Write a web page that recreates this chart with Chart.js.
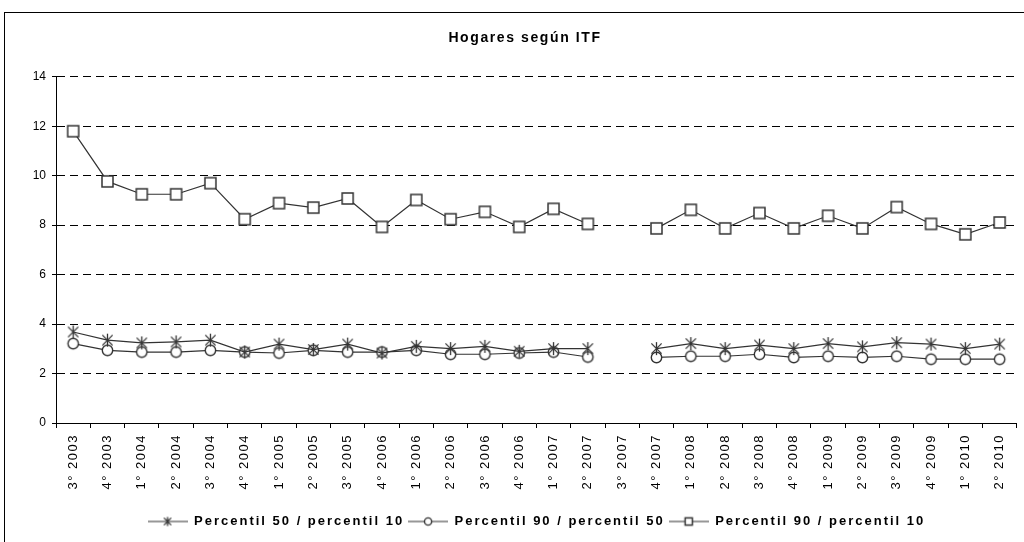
<!DOCTYPE html>
<html><head><meta charset="utf-8">
<script src="https://cdn.jsdelivr.net/npm/chart.js@4/dist/chart.umd.min.js"></script>
<style>
html,body{margin:0;padding:0;background:#fff;overflow:hidden;}
#wrap{position:relative;width:1024px;height:542px;}
#frame{position:absolute;left:4px;top:12px;width:1100px;height:600px;border:1px solid #000;box-sizing:border-box;pointer-events:none;}
canvas{display:block;}
</style></head><body>
<div id="wrap"><canvas id="c" width="1024" height="542"></canvas><div id="frame"></div></div>
<script>
const titleText = 'Hogares según ITF';
const categories = ['3° 2003','4° 2003','1° 2004','2° 2004','3° 2004','4° 2004','1° 2005','2° 2005','3° 2005','4° 2006','1° 2006','2° 2006','3° 2006','4° 2006','1° 2007','2° 2007','3° 2007','4° 2007','1° 2008','2° 2008','3° 2008','4° 2008','1° 2009','2° 2009','3° 2009','4° 2009','1° 2010','2° 2010'];
const seriesNames = ['Percentil 50 / percentil 10','Percentil 90 / percentil 50','Percentil 90 / percentil 10'];
const p50p10 = [3.68,3.35,3.24,3.28,3.35,2.87,3.19,2.97,3.19,2.83,3.10,3.01,3.10,2.90,3.01,3.01,null,3.01,3.21,3.01,3.15,3.01,3.21,3.08,3.25,3.19,3.01,3.19];
const p90p50 = [3.21,2.94,2.87,2.87,2.94,2.87,2.83,2.94,2.87,2.87,2.94,2.78,2.78,2.83,2.87,2.67,null,2.65,2.70,2.70,2.78,2.65,2.70,2.65,2.70,2.58,2.58,2.58];
const p90p10 = [11.8,9.77,9.25,9.25,9.70,8.24,8.89,8.71,9.08,7.93,9.02,8.24,8.54,7.93,8.66,8.05,null,7.87,8.62,7.87,8.49,7.87,8.38,7.87,8.73,8.05,7.63,8.11];
const yTicks = [0,2,4,6,8,10,12,14];

const LINE = '#333333';
const FONT = 'Arial, "Liberation Sans", sans-serif';

function mk(w,h,fn){const c=document.createElement('canvas');c.width=w;c.height=h;const g=c.getContext('2d');fn(g);return c;}
function star(g,cx,cy,r){g.strokeStyle=LINE;g.lineWidth=1.3;g.beginPath();g.moveTo(cx,cy-r);g.lineTo(cx,cy+r);
  const d=r*0.8;g.moveTo(cx-d,cy-d);g.lineTo(cx+d,cy+d);g.moveTo(cx+d,cy-d);g.lineTo(cx-d,cy+d);g.stroke();}
function circ(g,cx,cy,r){g.fillStyle='#fff';g.strokeStyle=LINE;g.lineWidth=1.4;g.beginPath();g.arc(cx,cy,r,0,Math.PI*2);g.fill();g.stroke();}
function sq(g,cx,cy,r){g.fillStyle='#fff';g.strokeStyle=LINE;g.lineWidth=1.5;g.fillRect(cx-r,cy-r,2*r,2*r);g.strokeRect(cx-r,cy-r,2*r,2*r);}
const markers=[star,circ,sq];
const pointImgs=[mk(15,15,g=>star(g,7.5,7.5,6.4)),mk(15,15,g=>circ(g,7.5,7.5,5.2)),mk(15,15,g=>sq(g,7.5,7.5,5.5))];
const legendImgs=markers.map((m,i)=>mk(40,12,g=>{g.strokeStyle=LINE;g.lineWidth=1.2;g.beginPath();g.moveTo(0,6);g.lineTo(40,6);g.stroke();
  m(g,20,6,i===0?4.5:3.6);}));

function lsFor(font,t){
  if(/^\d+$/.test(String(t)))return 0;
  if(font.indexOf('14px')>=0)return 1.6;
  if(font.indexOf('bold')>=0)return 2.0;
  return 1.5;
}
function setupCtx(ctx){
  if(!ctx.__wrapped){
    const f=ctx.fillText, mt=ctx.measureText;
    ctx.fillText=function(t,x,y,m){
      const ls=this.letterSpacing;this.letterSpacing=lsFor(this.font,t)+'px';
      if(m===undefined)f.call(this,t,x,y);else f.call(this,t,x,y,m);
      this.letterSpacing=ls;
    };
    ctx.measureText=function(t){
      const ls=this.letterSpacing;this.letterSpacing=lsFor(this.font,t)+'px';
      const r=mt.call(this,t);this.letterSpacing=ls;return r;
    };
    ctx.__wrapped=true;
  }
}
const spacingPlugin={id:'spacing',beforeInit(c){setupCtx(c.ctx);},beforeUpdate(c){setupCtx(c.ctx);},
  afterLayout(c){if(c.titleBlock){c.titleBlock.left+=28;}}};

const mkDs=(label,data,i)=>({label,data,borderColor:LINE,backgroundColor:'#fff',borderWidth:1.2,
  pointStyle:pointImgs[i],pointRadius:6,tension:0,spanGaps:false});

new Chart(document.getElementById('c'),{
  type:'line',
  data:{labels:categories,datasets:[mkDs(seriesNames[0],p50p10,0),mkDs(seriesNames[1],p90p50,1),mkDs(seriesNames[2],p90p10,2)]},
  plugins:[spacingPlugin],
  options:{
    responsive:false,devicePixelRatio:1,animation:false,events:[],
    layout:{padding:{top:0,left:0,right:2,bottom:4}},
    plugins:{
      tooltip:{enabled:false},
      title:{display:true,text:titleText,color:'#000',font:{family:FONT,size:14,weight:'bold'},padding:{top:30,bottom:30}},
      legend:{position:'bottom',fullSize:false,labels:{usePointStyle:true,pointStyleWidth:40,boxHeight:12,color:'#000',padding:4,
        font:{family:FONT,size:13,weight:'bold'},
        generateLabels(chart){const items=Chart.defaults.plugins.legend.labels.generateLabels(chart);
          items.forEach((it,i)=>{it.pointStyle=legendImgs[i];it.fontColor='#000';});return items;}}}
    },
    scales:{
      x:{type:'category',offset:true,
        grid:{display:true,offset:true,drawOnChartArea:false,drawTicks:true,tickLength:5,color:'#000',tickColor:'#000'},
        border:{display:true,color:'#000',width:1},
        ticks:{autoSkip:false,minRotation:90,maxRotation:90,padding:6,color:'#000',font:{family:FONT,size:13}},
        afterFit(s){s.height=88;}},
      y:{min:0,max:14,
        afterBuildTicks(s){s.ticks=yTicks.map(v=>({value:v}));},
        grid:{color:'#000',lineWidth:1,tickLength:4,drawTicks:true,tickColor:'#000'},
        border:{display:true,color:'#000',width:1,dash:[8,5]},
        ticks:{color:'#000',padding:6,font:{family:FONT,size:12}},
        afterFit(s){s.width=56;}}
    }
  }
});
</script></body></html>
